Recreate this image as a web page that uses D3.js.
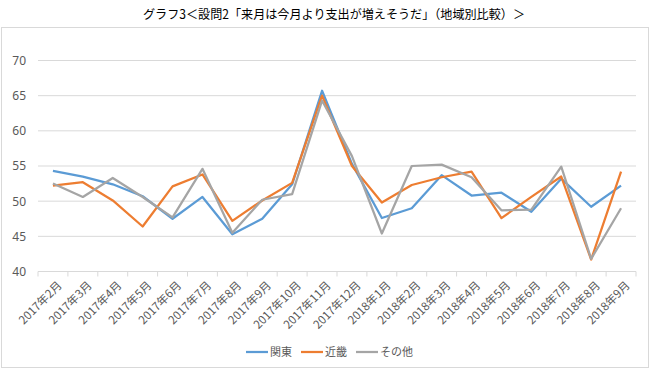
<!DOCTYPE html>
<html>
<head>
<meta charset="utf-8">
<script src="https://cdn.jsdelivr.net/npm/d3@7"></script>
<style>
  body { margin: 0; background: #fff; }
  svg { font-family: "Noto Sans CJK JP", "Noto Sans", sans-serif; }
</style>
</head>
<body>
<svg id="chart"></svg>
<script>
// chart data
const months = [
  '2017年2月', '2017年3月', '2017年4月', '2017年5月', '2017年6月',
  '2017年7月', '2017年8月', '2017年9月', '2017年10月', '2017年11月',
  '2017年12月', '2018年1月', '2018年2月', '2018年3月', '2018年4月',
  '2018年5月', '2018年6月', '2018年7月', '2018年8月', '2018年9月'
];
const kanto = [54.3, 53.5, 52.4, 50.7, 47.5, 50.6, 45.3, 47.5, 52.4, 65.7,
  55.3, 47.6, 49.0, 53.7, 50.8, 51.2, 48.5, 53.2, 49.2, 52.2];
const kinki = [52.2, 52.7, 50.1, 46.4, 52.1, 53.8, 47.2, 50.1, 52.6, 65.0,
  55.0, 49.8, 52.3, 53.4, 54.2, 47.6, 50.6, 53.5, 41.7, 54.2];
const other = [52.5, 50.6, 53.3, 50.6, 47.7, 54.6, 45.5, 50.2, 51.0, 64.3,
  56.4, 45.4, 55.0, 55.2, 53.4, 48.7, 48.8, 54.9, 41.8, 49.0];
const yTicks = [40, 45, 50, 55, 60, 65, 70];

const title = 'グラフ3＜設問2「来月は今月より支出が増えそうだ」（地域別比較）＞';
const series = [
  { name: '関東', values: kanto, color: '#5b9bd5' },
  { name: '近畿', values: kinki, color: '#ed7d31' },
  { name: 'その他', values: other, color: '#a5a5a5' }
];

const width = 650;
const height = 369;
const margin = { top: 60.5, right: 14, bottom: 97.5, left: 38 };

const svg = d3.select('#chart')
  .attr('width', width)
  .attr('height', height);

// chart frame
svg.append('rect')
  .attr('x', 1.5).attr('y', 27.5)
  .attr('width', 647).attr('height', 340)
  .attr('fill', '#fff')
  .attr('stroke', '#d9d9d9');

svg.append('text')
  .attr('x', 334).attr('y', 19)
  .attr('text-anchor', 'middle')
  .attr('font-size', 12.5)
  .attr('textLength', 382)
  .attr('lengthAdjust', 'spacingAndGlyphs')
  .attr('fill', '#000')
  .text(title);

const x = d3.scaleBand()
  .domain(months)
  .range([margin.left, width - margin.right]);

const y = d3.scaleLinear()
  .domain([40, 70])
  .range([height - margin.bottom, margin.top]);

// gridlines
svg.append('g')
  .selectAll('line')
  .data(yTicks.filter(d => d > 40))
  .join('line')
  .attr('x1', margin.left).attr('x2', width - margin.right)
  .attr('y1', d => y(d)).attr('y2', d => y(d))
  .attr('stroke', '#d9d9d9');

// y axis labels
const yAxis = svg.append('g')
  .attr('transform', `translate(${margin.left},0)`)
  .call(d3.axisLeft(y).tickValues(yTicks).tickSize(0).tickPadding(12));
yAxis.select('.domain').remove();
yAxis.selectAll('text')
  .attr('font-size', 12)
  .attr('fill', '#595959')
  .attr('font-family', '"Noto Sans", sans-serif');

// x axis with tick marks between categories
const xAxis = svg.append('g')
  .attr('transform', `translate(0,${y(40)})`);
xAxis.append('line')
  .attr('x1', margin.left).attr('x2', width - margin.right)
  .attr('stroke', '#d9d9d9');
xAxis.selectAll('.tick-mark')
  .data(months.concat(['end']))
  .join('line')
  .attr('class', 'tick-mark')
  .attr('x1', (d, i) => margin.left + i * x.step())
  .attr('x2', (d, i) => margin.left + i * x.step())
  .attr('y1', 0).attr('y2', 5)
  .attr('stroke', '#d9d9d9');
xAxis.selectAll('.label')
  .data(months)
  .join('text')
  .attr('class', 'label')
  .attr('transform', d => `translate(${x(d) + x.bandwidth() / 2 + 4},9) rotate(-45)`)
  .attr('text-anchor', 'end')
  .attr('dy', '0.7em')
  .attr('font-size', 11.5)
  .attr('fill', '#595959')
  .text(d => d);

// series lines
const line = d3.line()
  .x((d, i) => x(months[i]) + x.bandwidth() / 2)
  .y(d => y(d));

svg.append('g')
  .selectAll('path')
  .data(series)
  .join('path')
  .attr('d', d => line(d.values))
  .attr('fill', 'none')
  .attr('stroke', d => d.color)
  .attr('stroke-width', 2.25)
  .attr('stroke-linejoin', 'round');

// legend
const legendX = [246, 301, 356];
const legend = svg.append('g')
  .selectAll('g')
  .data(series)
  .join('g')
  .attr('transform', (d, i) => `translate(${legendX[i]},352)`);
legend.append('line')
  .attr('x1', 0).attr('x2', 22)
  .attr('stroke', d => d.color)
  .attr('stroke-width', 2.25);
legend.append('text')
  .attr('x', 24)
  .attr('dy', '0.35em')
  .attr('font-size', 11)
  .attr('fill', '#595959')
  .text(d => d.name);
</script>
</body>
</html>
